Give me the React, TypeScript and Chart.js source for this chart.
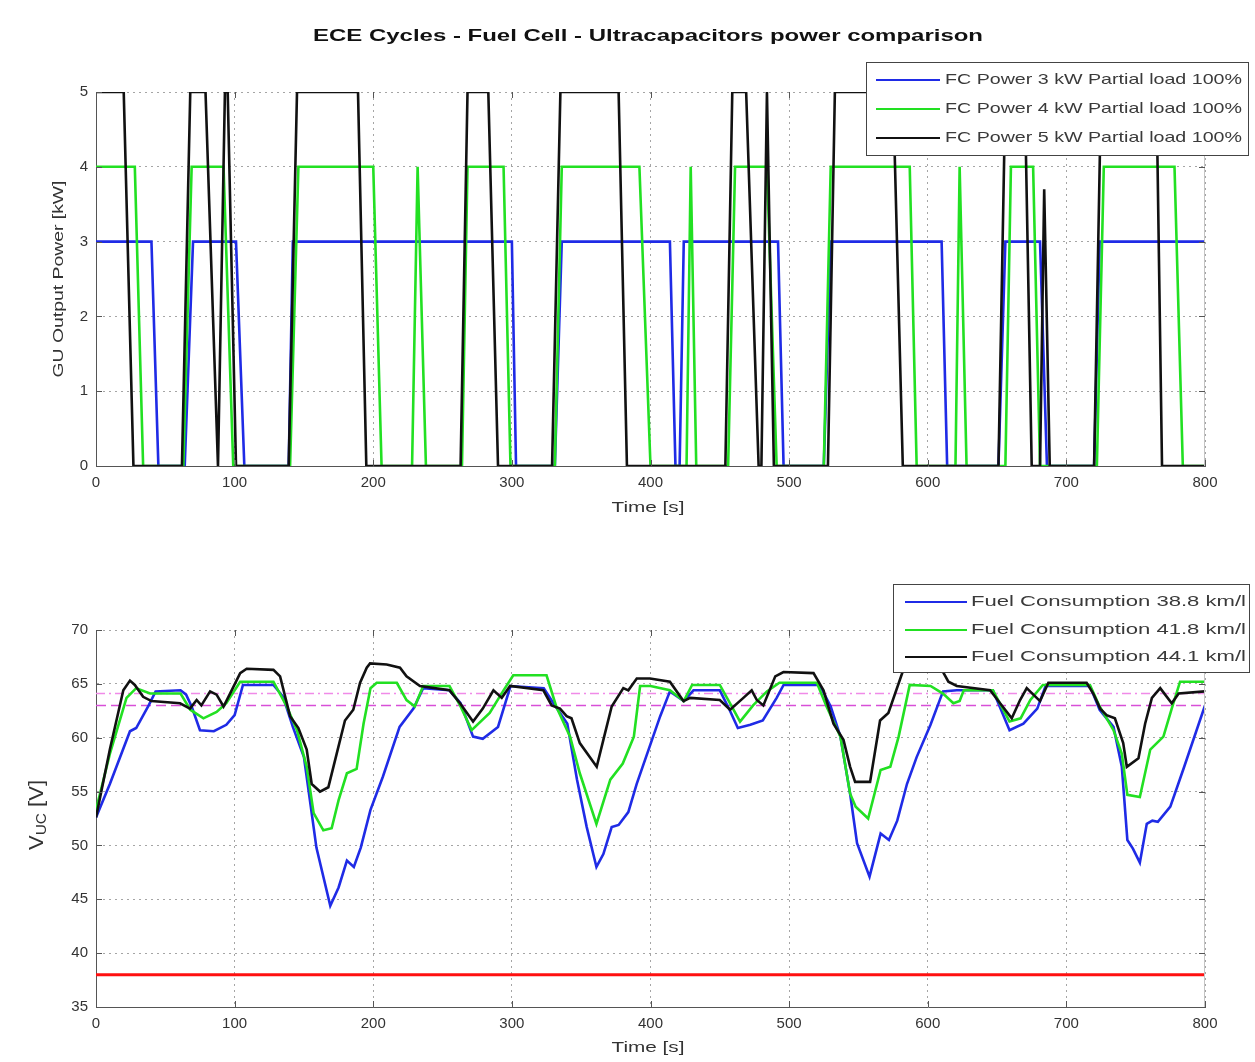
import React, { useEffect, useRef } from "react";
import { Chart, registerables } from "chart.js";

Chart.register(...registerables);

// ---------------- Top chart: FC output power [kW] vs time [s]
const fc3Time = [0, 40, 45, 64, 70, 101, 107, 139, 142, 300, 303, 331, 336, 414, 418, 421, 424, 492, 496, 525, 530, 610, 614, 651, 656, 681, 686, 720, 724, 800];
const fc3Power = [3, 3, 0, 0, 3, 3, 0, 0, 3, 3, 0, 0, 3, 3, 0, 0, 3, 3, 0, 0, 3, 3, 0, 0, 3, 3, 0, 0, 3, 3];

const fc4Time = [
  0, 28, 34, 63, 69, 92, 99, 140, 146, 200, 206, 228, 232, 238, 264,
  268, 294, 299, 331, 336, 392, 400, 426, 429, 433, 456, 461, 484, 491, 525,
  530, 587, 592, 620, 623, 628, 656, 660, 676, 681, 722, 727, 778, 784, 800,
];
const fc4Power = [
  4, 4, 0, 0, 4, 4, 0, 0, 4, 4, 0, 0, 4, 0, 0,
  4, 4, 0, 0, 4, 4, 0, 0, 4, 0, 0, 4, 4, 0, 0,
  4, 4, 0, 0, 4, 0, 0, 4, 4, 0, 0, 4, 4, 0, 0,
];

const fc5Time = [
  0, 20, 27, 62, 68, 79, 88, 93, 95, 101, 139, 145, 189, 195, 263,
  268, 283, 290, 329, 335, 377, 383, 454, 459, 469, 478, 480, 484, 489, 528,
  533, 575, 582, 651, 656, 670, 675, 681, 684, 688, 720, 725, 765, 769, 800,
];
const fc5Power = [
  5, 5, 0, 0, 5, 5, 0, 5, 5, 0, 0, 5, 5, 0, 0,
  5, 5, 0, 0, 5, 5, 0, 0, 5, 5, 0, 0, 5, 0, 0,
  5, 5, 0, 0, 5, 5, 0, 0, 3.7, 0, 0, 5, 5, 0, 0,
];

const powerLabels = ["FC Power 3 kW Partial load 100%", "FC Power 4 kW Partial load 100%", "FC Power 5 kW Partial load 100%"];

// ---------------- Bottom chart: ultracapacitor voltage [V] vs time [s]
const uc388Time = [
  0, 10, 24.5, 29, 38, 43, 61, 65, 69, 75,
  85, 94, 100, 106, 128, 135, 142, 150, 154, 159,
  169, 175, 181, 186, 191, 198, 207, 219, 229, 236,
  255, 263, 272, 279, 290, 299, 323, 330, 340, 347,
  354, 361, 366, 372, 377, 384, 390, 400, 407, 414,
  424, 431, 450, 457, 463, 472, 481, 491, 496, 522,
  530, 537, 544, 549, 558, 566, 572, 578, 585, 592,
  602, 611, 621, 647, 659, 669, 679, 685, 717, 724,
  734, 740, 744, 748, 753, 758, 762, 766, 775, 785,
  800,
];
const uc388Volt = [
  52.6, 55.7, 60.6, 60.9, 63.0, 64.3, 64.4, 64.0, 62.9, 60.7,
  60.6, 61.2, 62.1, 64.9, 64.9, 63.8, 61.0, 58.2, 54.5, 49.8,
  44.4, 46.1, 48.6, 48.0, 49.8, 53.3, 56.4, 61.0, 62.7, 64.6,
  64.4, 63.2, 60.1, 59.9, 61.0, 64.8, 64.6, 63.2, 61.3, 56.1,
  51.7, 48.0, 49.2, 51.7, 51.9, 53.1, 55.7, 59.4, 62.0, 64.3,
  63.4, 64.4, 64.4, 62.6, 60.9, 61.2, 61.6, 63.7, 64.9, 64.9,
  62.9, 60.1, 54.8, 50.2, 47.1, 51.1, 50.5, 52.3, 55.7, 58.2,
  61.2, 64.3, 64.4, 64.4, 60.7, 61.3, 62.7, 64.8, 64.8, 62.6,
  61.0, 57.3, 50.5, 49.7, 48.4, 52.0, 52.3, 52.2, 53.6, 57.3,
  63.0,
];

const uc418Time = [
  0, 10, 22, 29, 39, 61, 68, 77.5, 87, 94,
  104, 128, 137.6, 145, 152, 157, 164, 170, 175, 181,
  188, 193, 198, 202.5, 217, 224, 230, 236, 255, 263,
  271, 284, 294, 301, 325, 332, 342, 349, 361, 371,
  380, 388, 392.5, 400, 414, 424, 430, 450, 458.6, 464.6,
  474, 484, 493, 520, 527, 537, 544, 548, 557, 566,
  573, 579, 587, 602, 611, 618.5, 623, 626, 647, 659,
  667, 674, 683, 717, 724, 734, 740, 744, 753, 760.5,
  770, 776, 782, 800,
];
const uc418Volt = [
  53.3, 58.5, 63.7, 64.6, 64.1, 64.1, 62.6, 61.8, 62.4, 63.2,
  65.2, 65.2, 62.9, 60.7, 57.3, 53.0, 51.4, 51.6, 54.2, 56.7,
  57.1, 61.3, 64.6, 65.1, 65.1, 63.5, 62.9, 64.8, 64.8, 62.9,
  60.7, 62.3, 64.4, 65.8, 65.8, 62.9, 60.1, 56.7, 52.0, 56.1,
  57.6, 60.1, 64.8, 64.8, 64.4, 63.4, 64.9, 64.9, 62.9, 61.5,
  63.0, 64.3, 65.1, 65.1, 62.9, 60.1, 54.8, 53.6, 52.5, 57.0,
  57.3, 60.1, 64.9, 64.8, 64.1, 63.2, 63.4, 64.4, 64.4, 61.5,
  61.8, 63.5, 64.9, 64.9, 62.9, 60.7, 58.5, 54.7, 54.5, 58.9,
  60.1, 62.7, 65.2, 65.2,
];

const uc441Time = [
  0, 10, 19.7, 24.5, 28, 34, 40, 60.6, 67.8, 72.6,
  76, 82.3, 87, 92, 96.7, 104, 108.7, 128, 132.8, 140,
  146, 152, 155.6, 161.6, 167.6, 173.6, 179.6, 185.6, 190.5, 195.3,
  197.7, 209.7, 219.3, 224, 233.7, 255, 262.6, 272, 279, 286.7,
  292.7, 298.7, 322.7, 328.7, 334.7, 339.5, 343, 349, 361.2, 366,
  372, 380.4, 384, 390.1, 399.7, 414, 423.8, 428.6, 450, 457.4,
  467, 473, 476.7, 481.4, 490, 495.9, 517.6, 524.8, 532, 539.2,
  544, 547.6, 558.4, 565.6, 571.6, 582.4, 590, 600, 608, 614.9,
  621, 645, 652.2, 660.6, 666.6, 671.4, 676.2, 681, 687, 714.6,
  719.4, 724.4, 729, 735, 741, 743.6, 752, 756.8, 761.7, 767.7,
  776, 781, 800,
];
const uc441Volt = [
  52.6, 58.9, 64.4, 65.3, 64.9, 63.8, 63.4, 63.2, 62.7, 63.5,
  63.0, 64.3, 64.0, 62.9, 64.1, 66.0, 66.4, 66.3, 65.7, 62.0,
  60.9, 58.9, 55.7, 55.0, 55.4, 58.5, 61.6, 62.6, 65.1, 66.5,
  66.9, 66.8, 66.5, 65.7, 64.8, 64.4, 63.2, 61.5, 62.7, 64.4,
  63.7, 64.8, 64.4, 63.0, 62.7, 62.0, 61.8, 59.5, 57.3, 59.8,
  62.9, 64.6, 64.4, 65.5, 65.5, 65.2, 63.4, 63.7, 63.5, 62.6,
  63.7, 64.4, 63.5, 63.0, 65.7, 66.1, 66.0, 64.4, 61.3, 59.8,
  57.3, 55.9, 55.9, 61.6, 62.3, 66.3, 67.2, 67.3, 66.8, 65.2,
  64.8, 64.4, 63.2, 61.8, 63.5, 64.6, 64.0, 63.4, 65.1, 65.1,
  64.1, 62.7, 62.1, 61.8, 59.5, 57.3, 58.1, 61.3, 63.7, 64.6,
  63.2, 64.1, 64.3,
];

const limitTime = [0, 800];
const minVoltage = [38, 38];
const upperBand = [64.1, 64.1];
const lowerBand = [63.0, 63.0];

const fuelLabels = ["Fuel Consumption 38.8 km/l", "Fuel Consumption 41.8 km/l", "Fuel Consumption 44.1 km/l"];

// ---------------- Tick values
const timeTicks = [0, 100, 200, 300, 400, 500, 600, 700, 800];
const powerTicks = [0, 1, 2, 3, 4, 5];
const voltTicks = [35, 40, 45, 50, 55, 60, 65, 70];

// ---------------- Styling / layout
const W = 1255;
const TOP_H = 530;
const BOT_H = 532;
const FONT = '"Liberation Sans", Arial, Helvetica, sans-serif';
const BLUE = "#1f2be6";
const GREEN = "#22e022";
const BLACK = "#111111";
const LW = 2.6;

const zip = (t: number[], v: number[]) => t.map((x, i) => ({ x, y: v[i] }));

function fitText(
  ctx: CanvasRenderingContext2D,
  text: string,
  x: number,
  y: number,
  font: string,
  width: number,
  align: CanvasTextAlign = "center",
  rotate = false,
  color = "#222"
) {
  ctx.save();
  ctx.font = font;
  ctx.fillStyle = color;
  ctx.textBaseline = "middle";
  ctx.textAlign = align;
  const w = ctx.measureText(text).width;
  ctx.translate(x, y);
  if (rotate) ctx.rotate(-Math.PI / 2);
  ctx.scale(width / w, 1);
  ctx.fillText(text, 0, 0);
  ctx.restore();
}

function drawLegend(
  ctx: CanvasRenderingContext2D,
  box: [number, number, number, number],
  labels: string[],
  colors: string[],
  rows: number[],
  lineX: [number, number],
  textX: number,
  textW: number
) {
  const [l, t, r, b] = box;
  ctx.save();
  ctx.fillStyle = "#fff";
  ctx.fillRect(l, t, r - l, b - t);
  ctx.strokeStyle = "#444";
  ctx.lineWidth = 1;
  ctx.strokeRect(l + 0.5, t + 0.5, r - l - 1, b - t - 1);
  labels.forEach((lab, i) => {
    ctx.strokeStyle = colors[i];
    ctx.lineWidth = 2.2;
    ctx.beginPath();
    ctx.moveTo(lineX[0], rows[i]);
    ctx.lineTo(lineX[1], rows[i]);
    ctx.stroke();
    fitText(ctx, lab, textX, rows[i], `15px ${FONT}`, textW, "left", false, "#3a3a3a");
  });
  ctx.restore();
}

const framePlugin = {
  id: "matlabFrame",
  afterDraw(chart: any) {
    const { ctx, chartArea, scales } = chart;
    const { left, right, top, bottom } = chartArea;
    ctx.save();
    ctx.strokeStyle = "#c4c4c4";
    ctx.lineWidth = 1;
    ctx.beginPath();
    ctx.moveTo(right - 0.5, top);
    ctx.lineTo(right - 0.5, bottom);
    ctx.stroke();
    ctx.strokeStyle = "#555";
    ctx.beginPath();
    scales.x.ticks.forEach((tk: any) => {
      const px = Math.round(scales.x.getPixelForValue(tk.value)) + 0.5;
      ctx.moveTo(px, bottom);
      ctx.lineTo(px, bottom - 6);
      ctx.moveTo(px, top);
      ctx.lineTo(px, top + 6);
    });
    scales.y.ticks.forEach((tk: any) => {
      const py = Math.round(scales.y.getPixelForValue(tk.value)) + 0.5;
      ctx.moveTo(left, py);
      ctx.lineTo(left + 6, py);
      ctx.moveTo(right, py);
      ctx.lineTo(right - 6, py);
    });
    ctx.stroke();
    ctx.restore();
  },
};

function axis(min: number, max: number, ticks: number[], fit: (s: any) => void) {
  return {
    type: "linear",
    min,
    max,
    afterBuildTicks: (s: any) => {
      s.ticks = ticks.map((v) => ({ value: v }));
    },
    afterFit: fit,
    ticks: {
      font: { family: FONT, size: 15 },
      color: "#333",
      padding: 8,
      maxRotation: 0,
      autoSkip: false,
      callback: (v: any) => String(v),
    },
    grid: { color: "#a5a5a5", lineWidth: 1, drawTicks: false },
    border: { display: true, color: "#555", width: 1, dash: [2, 4] },
  };
}

function lineDs(data: any[], color: string, order: number, width = 2, dash: number[] = []) {
  return {
    data,
    borderColor: color,
    backgroundColor: color,
    borderWidth: width,
    borderDash: dash,
    pointRadius: 0,
    tension: 0,
    fill: false,
    order,
  };
}

function topConfig(): any {
  const textPlugin = {
    id: "topTexts",
    afterDraw(chart: any) {
      const ctx = chart.ctx;
      fitText(ctx, "ECE Cycles - Fuel Cell - Ultracapacitors power comparison", 648, 36, `bold 17px ${FONT}`, 670, "center", false, "#111");
      fitText(ctx, "Time [s]", 648, 508, `15px ${FONT}`, 73, "center", false, "#333");
      fitText(ctx, "GU Output Power [kW]", 59, 279, `15px ${FONT}`, 197, "center", true, "#333");
      drawLegend(ctx, [866, 62, 1249, 156], powerLabels, [BLUE, GREEN, BLACK], [80, 109, 138], [876, 940], 945, 297);
    },
  };
  return {
    type: "line",
    data: {
      datasets: [
        lineDs(zip(fc3Time, fc3Power), BLUE, 2, LW),
        lineDs(zip(fc4Time, fc4Power), GREEN, 1, LW),
        lineDs(zip(fc5Time, fc5Power), BLACK, 0, LW),
      ],
    },
    options: {
      animation: false,
      responsive: false,
      events: [],
      layout: { padding: { top: 92, right: W - 1205, bottom: 0, left: 0 } },
      plugins: { legend: { display: false }, title: { display: false }, tooltip: { enabled: false } },
      scales: {
        x: axis(0, 800, timeTicks, (s: any) => { s.height = TOP_H - 466; }),
        y: axis(0, 5, powerTicks, (s: any) => { s.width = 96; }),
      },
    },
    plugins: [framePlugin, textPlugin],
  };
}

function botConfig(): any {
  const textPlugin = {
    id: "botTexts",
    afterDraw(chart: any) {
      const ctx = chart.ctx;
      fitText(ctx, "Time [s]", 648, 518, `15px ${FONT}`, 73, "center", false, "#333");
      // V_UC [V] rotated with subscript
      ctx.save();
      ctx.translate(43, 285);
      ctx.rotate(-Math.PI / 2);
      ctx.fillStyle = "#333";
      ctx.textBaseline = "alphabetic";
      ctx.textAlign = "left";
      const big = `20px ${FONT}`;
      const small = `14px ${FONT}`;
      ctx.font = big;
      const wV = ctx.measureText("V").width;
      const wB = ctx.measureText(" [V]").width;
      ctx.font = small;
      const wS = ctx.measureText("UC").width;
      const total = wV + wS + wB;
      ctx.scale(70 / total, 1);
      let x = -total / 2;
      ctx.font = big;
      ctx.fillText("V", x, 0);
      x += wV;
      ctx.font = small;
      ctx.fillText("UC", x, 3);
      x += wS;
      ctx.font = big;
      ctx.fillText(" [V]", x, 0);
      ctx.restore();
      drawLegend(ctx, [893, 54, 1250, 143], fuelLabels, [BLUE, GREEN, BLACK], [72, 100, 127], [905, 967], 971, 275);
    },
  };
  return {
    type: "line",
    data: {
      datasets: [
        lineDs(zip(uc388Time, uc388Volt), BLUE, 2, LW),
        lineDs(zip(uc418Time, uc418Volt), GREEN, 1, LW),
        lineDs(zip(uc441Time, uc441Volt), BLACK, 0, LW),
        lineDs(zip(limitTime, upperBand), "#f08ae8", 3, 1.5, [9, 4, 2, 4]),
        lineDs(zip(limitTime, lowerBand), "#d84fd8", 4, 1.5, [10, 5]),
        lineDs(zip(limitTime, minVoltage), "#ff1010", 5, 3),
      ],
    },
    options: {
      animation: false,
      responsive: false,
      events: [],
      layout: { padding: { top: 100, right: W - 1205, bottom: 0, left: 0 } },
      plugins: { legend: { display: false }, title: { display: false }, tooltip: { enabled: false } },
      scales: {
        x: axis(0, 800, timeTicks, (s: any) => { s.height = BOT_H - 477; }),
        y: axis(35, 70, voltTicks, (s: any) => { s.width = 96; }),
      },
    },
    plugins: [framePlugin, textPlugin],
  };
}

export default function App() {
  const topRef = useRef<HTMLCanvasElement>(null);
  const botRef = useRef<HTMLCanvasElement>(null);
  useEffect(() => {
    const c1 = new Chart(topRef.current as HTMLCanvasElement, topConfig());
    const c2 = new Chart(botRef.current as HTMLCanvasElement, botConfig());
    return () => {
      c1.destroy();
      c2.destroy();
    };
  }, []);
  return (
    <div style={{ position: "absolute", left: 0, top: 0, width: W, height: TOP_H + BOT_H, background: "#fff", overflow: "hidden" }}>
      <canvas ref={topRef} width={W} height={TOP_H} style={{ position: "absolute", left: 0, top: 0, width: W, height: TOP_H }} />
      <canvas ref={botRef} width={W} height={BOT_H} style={{ position: "absolute", left: 0, top: TOP_H, width: W, height: BOT_H }} />
    </div>
  );
}
